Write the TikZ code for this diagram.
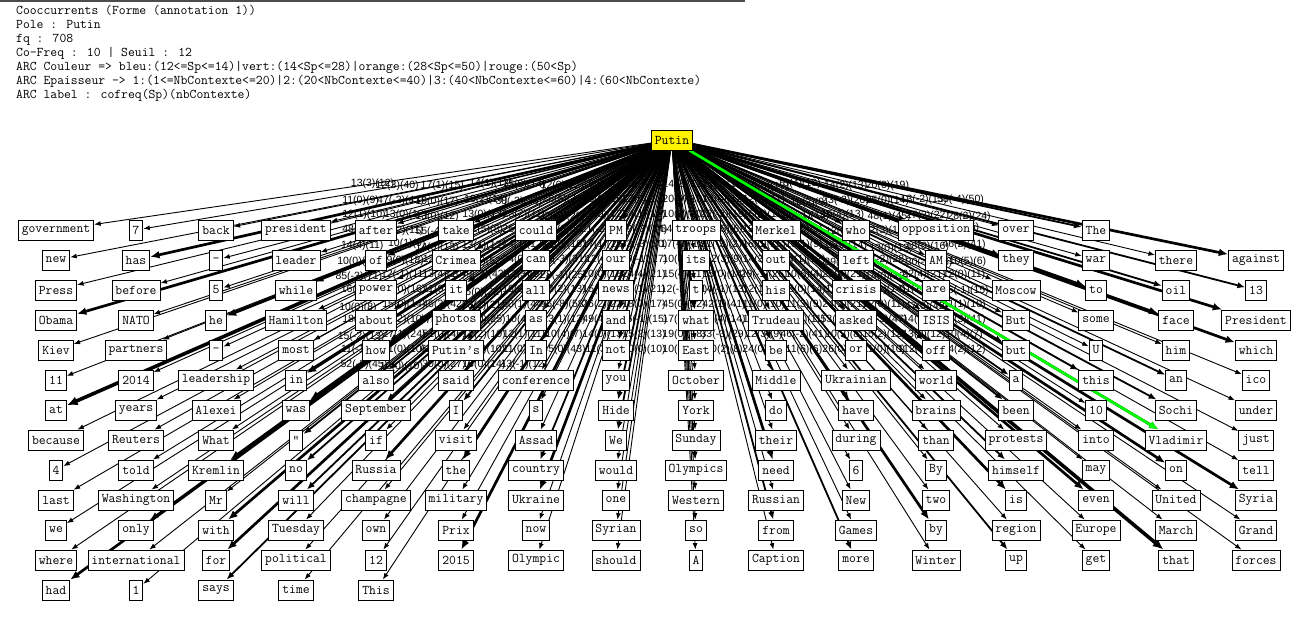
\documentclass[tikz,border=0pt]{standalone}
\usepackage{fontspec}
\usepackage{xcolor}
\usepackage{tikz}
\usetikzlibrary{arrows.meta,backgrounds}
\newfontfamily\labfont{Liberation Sans}

\begin{document}
\begin{tikzpicture}[x=1pt, y=-1pt,
    word/.style={draw, fill=white, line width=0.9pt, font=\ttfamily\fontsize{13.3}{14}\selectfont,
                 minimum height=20pt, inner xsep=3.5pt, inner ysep=0pt},
    pole/.style={word, fill=yellow},
    edge/.style={-{Latex[length=5pt 1.6, width=3.5pt 1.6]}},
    lab/.style={font=\labfont\fontsize{10.5}{11}\selectfont, inner sep=0pt}
]
    \useasboundingbox (0,0) rectangle (1310,618);
    \begin{scope}[on background layer]
        \fill[white] (0,0) rectangle (1310,618);
    \end{scope}
    \draw[gray!60!black, line width=2pt] (0,1) -- (745,1);

    \node[anchor=north west, align=left, inner sep=0pt,
          font=\ttfamily\fontsize{13.3}{14}\selectfont] (header) at (16,5)
        {Cooccurrents (Forme (annotation 1))\\
         Pole : Putin\\
         fq : 708\\
         Co-Freq : 10 | Seuil : 12\\
         ARC Couleur => bleu:(12<=Sp<=14)|vert:(14<Sp<=28)|orange:(28<Sp<=50)|rouge:(50<Sp)\\
         ARC Epaisseur -> 1:(1<=NbContexte<=20)|2:(20<NbContexte<=40)|3:(40<NbContexte<=60)|4:(60<NbContexte)\\
         ARC label : cofreq(Sp)(nbContexte)};

    \node[pole] (putin) at (672,140) {Putin};

    % one column of co-occurrents: column / first row / word/thickness/label
    \foreach \col/\start/\words in {
      0/0/{government/1/13(3)(12), new/1/11(0)(9), Press/1/12(1)(10), Obama/3/48(2)(44), Kiev/1/14(4)(11), 11/1/10(0)(10), at/4/85(-3)(71), because/1/16(-1)(15), 4/1/10(0)(8), last/1/18(0)(16), we/1/15(-2)(13), where/1/11(-1)(10), had/3/52(-2)(45)},
      1/0/{7/1/12(3)(40), has/3/47(-2)(41), before/1/13(0)(12), NATO/1/14(2)(11), partners/1/10(1)(9), 2014/1/19(0)(18), years/1/12(-1)(11), Reuters/1/16(0)(16), told/1/15(0)(14), Washington/1/11(2)(10), only/2/27(1)(24), international/1/11(0)(10), 1/1/10(0)(10)},
      2/0/{back/1/17(1)(15), –/1/19(0)(17), 5/1/13(0)(12), he/3/55(-4)(48), –/1/14(0)(13), leadership/1/12(3)(11), Alexei/1/13(4)(10), What/1/11(0)(11), Kremlin/3/46(3)(42), Mr/1/17(-1)(15), with/3/51(0)(46), for/3/62(-5)(54), says/2/30(0)(27)},
      3/0/{president/1/14(1)(13), leader/1/16(2)(14), while/1/13(0)(13), Hamilton/1/12(5)(8), most/1/13(1)(12), in/3/57(-4)(52), was/3/49(-2)(43), ”/2/26(0)(22), no/2/23(1)(21), will/2/29(0)(25), Tuesday/1/12(2)(10), political/1/11(1)(10), time/1/15(0)(14)},
      4/0/{after/1/15(0)(14), of/2/38(-3)(33), power/1/13(2)(11), about/2/25(0)(23), how/1/14(1)(12), also/2/24(0)(22), September/1/12(3)(9), if/1/16(0)(15), Russia/3/50(1)(44), champagne/1/10(4)(7), own/1/12(1)(11), 12/1/11(0)(10), This/1/13(-1)(12)},
      5/0/{take/1/12(0)(12), Crimea/2/26(5)(21), it/2/32(-2)(28), photos/1/10(3)(8), Putin’s/1/17(0)(16), said/2/35(-3)(31), I/2/28(-1)(25), visit/1/14(2)(13), the/3/96(-8)(58), military/1/13(1)(12), Prix/1/10(4)(7), 2015/3/45(0)(43)},
      6/0/{could/1/18(0)(17), can/1/16(0)(15), all/1/13(0)(12), as/1/21(-2)(19), In/1/17(1)(15), conference/1/12(4)(9), s/1/20(0)(18), Assad/1/15(3)(12), country/2/26(2)(22), Ukraine/3/49(4)(43), now/1/14(0)(13), Olympic/1/11(3)(8)},
      7/0/{PM/1/13(2)(11), our/1/12(0)(12), news/1/14(1)(12), and/2/39(-3)(34), not/2/33(-3)(30), you/1/19(-1)(17), Hide/2/24(4)(21), We/2/22(1)(21), would/1/18(0)(17), one/1/16(-1)(15), Syrian/1/15(2)(13), should/1/10(0)(10)},
      8/0/{troops/1/14(2)(12), its/1/20(0)(18), t/1/10(0)(10), what/3/54(-2)(47), East/1/17(-3)(16), October/1/10(0)(10), York/1/15(4)(11), Sunday/1/12(-3)(12), Olympics/2/45(0)(22), Western/1/17(0)(16), so/1/19(0)(18), A/1/10(0)(10)},
      9/0/{Merkel/1/11(1)(10), out/1/13(0)(12), his/1/22(-2)(19), Trudeau/1/10(5)(6), be/2/31(-3)(27), Middle/1/12(3)(9), do/1/15(0)(14), their/1/14(-1)(13), need/3/42(1)(41), Russian/1/17(4)(14), from/2/33(-3)(29), Caption/1/10(2)(8)},
      10/0/{who/1/19(0)(17), left/1/12(2)(11), crisis/1/15(4)(11), asked/1/13(1)(12), or/1/16(0)(15), Ukrainian/1/14(3)(11), have/2/29(-1)(26), during/1/12(1)(11), 6/1/11(0)(10), New/1/13(2)(11), Games/1/12(3)(9), more/2/24(0)(22)},
      11/0/{opposition/1/13(4)(10), AM/1/10(2)(9), are/1/20(-1)(18), ISIS/1/12(5)(9), off/1/10(1)(9), world/1/14(1)(12), brains/1/10(6)(4), than/1/15(0)(14), By/1/11(3)(9), two/1/12(0)(11), by/3/46(-2)(41), Winter/1/11(6)(6)},
      12/0/{over/1/14(2)(13), they/1/23(-2)(20), Moscow/1/16(4)(13), But/1/12(0)(12), but/1/15(0)(14), a/2/39(-1)(35), been/2/25(0)(21), protests/1/11(5)(7), himself/2/24(2)(21), is/3/53(-3)(48), region/1/10(3)(8), up/2/26(0)(23)},
      13/0/{The/2/20(0)(19), war/1/25(0)(14), to/3/48(1)(45), some/1/12(3)(10), U/1/13(0)(12), this/2/33(-2)(28), 10/1/14(0)(13), into/1/16(1)(14), may/1/12(0)(11), even/3/55(-3)(47), Europe/1/15(2)(12), get/1/11(0)(10)},
      14/1/{there/1/13(-2)(13), oil/2/27(3)(22), face/3/51(-2)(44), him/1/18(0)(16), an/2/30(-1)(26), Sochi/2/22(4)(21), Vladimir/3/61(17)(52), on/3/47(0)(42), United/1/14(1)(12), March/1/13(0)(12), that/4/112(-9)(73)},
      15/1/{against/3/58(-4)(50), 13/2/28(2)(24), President/3/53(0)(45), which/3/46(2)(41), ico/1/10(5)(6), under/1/12(0)(11), just/1/16(-1)(15), tell/1/11(1)(10), Syria/3/44(3)(41), Grand/1/10(4)(7), forces/1/14(2)(12)}}{
      \foreach \word/\thick/\cofreq [count=\row from \start] in \words {
        \node[word] (w-\col-\row) at ({56+80*\col}, {230+30*\row}) {\word};
        \begin{scope}[on background layer]
          \draw[edge, line width=\thick*0.9pt] (putin) -- node[lab] {\cofreq} (w-\col-\row);
        \end{scope}
      }
    }

    % vert: 14<Sp<=28
    \begin{scope}[on background layer]
      \draw[edge, line width=2.7pt, green] (putin) -- (w-14-7);
    \end{scope}
\end{tikzpicture}
\end{document}
